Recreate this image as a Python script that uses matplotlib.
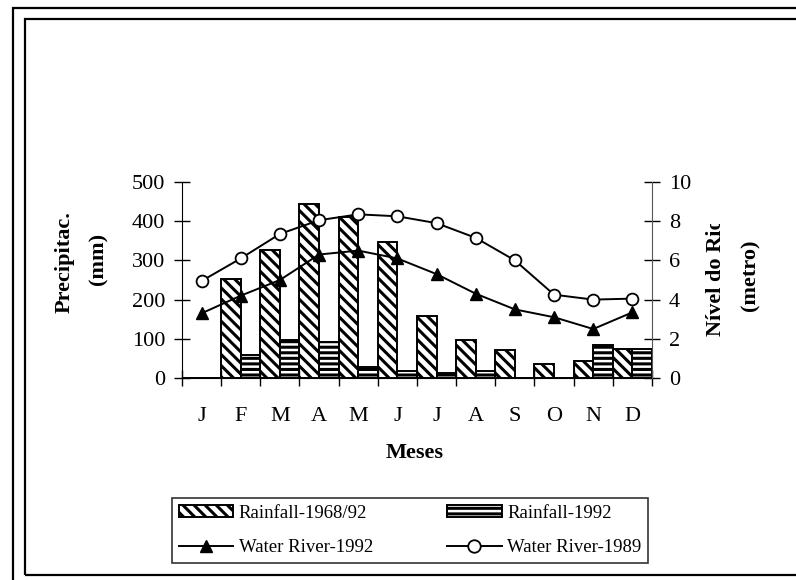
import numpy as np
import matplotlib
matplotlib.use("Agg")
import matplotlib.pyplot as plt
from matplotlib.patches import Rectangle
from matplotlib.transforms import Bbox, TransformedBbox

# Data
months = ["J", "F", "M", "A", "M", "J", "J", "A", "S", "O", "N", "D"]
rain_6892 = [0, 252, 327, 443, 411, 346, 159, 97, 71, 35, 43, 74]
rain_1992 = [0, 59, 97, 93, 27, 17, 12, 17, 0, 0, 85, 74]
river_1992 = [3.3, 4.2, 5.0, 6.3, 6.5, 6.1, 5.3, 4.3, 3.5, 3.1, 2.5, 3.35]
river_1989 = [4.95, 6.1, 7.35, 8.05, 8.35, 8.25, 7.9, 7.15, 6.0, 4.25, 4.0, 4.05]

plt.rcParams['font.family'] = ['Liberation Serif', 'DejaVu Serif']
plt.rcParams['hatch.linewidth'] = 2.2

W, H = 796, 580
fig = plt.figure(figsize=(W / 100, H / 100), dpi=100)

# double frame around the chart
fig.add_artist(Rectangle((13 / W, -0.2), 2, (580 - 8) / H + 0.2, transform=fig.transFigure,
                         fill=False, edgecolor='black', lw=1.6))
fig.add_artist(Rectangle((25 / W, (580 - 575) / H), 2, (575 - 19) / H, transform=fig.transFigure,
                         fill=False, edgecolor='black', lw=1.6))

ax = fig.add_axes([182 / W, (580 - 378) / H, (652 - 182) / W, (378 - 182) / H])
ax2 = ax.twinx()

x = np.arange(len(months))
b1 = ax.bar(x - 0.25, rain_6892, width=0.5, facecolor='white', edgecolor='black',
            lw=1.4, hatch='\\\\\\', label='Rainfall-1968/92')
b2 = ax.bar(x + 0.25, rain_1992, width=0.5, facecolor='white', edgecolor='black',
            lw=1.4, hatch='---', label='Rainfall-1992')

l1, = ax2.plot(x, river_1992, color='black', lw=1.4, marker='^', markersize=9,
               markerfacecolor='black', label='Water River-1992')
l2, = ax2.plot(x, river_1989, color='black', lw=1.4, marker='o', markersize=8.5,
               markerfacecolor='white', markeredgewidth=1.3, label='Water River-1989')

ax.set_xlim(-0.5, 11.5)
ax.set_ylim(0, 500)
ax2.set_ylim(0, 10)
ax.set_yticks([0, 100, 200, 300, 400, 500])
ax2.set_yticks([0, 2, 4, 6, 8, 10])
ax.set_xticks(x)
ax.set_xticklabels(months)
ax.set_xticks(np.arange(-0.5, 12, 1), minor=True)

for a in (ax, ax2):
    a.spines['top'].set_visible(False)
ax.spines['right'].set_visible(False)
ax2.spines['left'].set_visible(False)
ax2.spines['bottom'].set_visible(False)
ax2.spines['right'].set_color('#555555')

fs = 16
ax.tick_params(axis='y', direction='inout', length=12, width=1, pad=6, labelsize=fs)
ax2.tick_params(axis='y', direction='inout', length=12, width=1, pad=6, labelsize=fs)
ax.tick_params(axis='x', which='major', length=0, pad=21, labelsize=fs)
ax.tick_params(axis='x', which='minor', direction='inout', length=12, width=1)

fig.text(415 / W, (580 - 453) / H, "Meses", ha='center', va='center',
         fontsize=fs, fontweight='bold')
fig.text(65 / W, (580 - 262) / H, "Precipitac.", rotation=90, ha='center', va='center',
         fontsize=fs, fontweight='bold')
fig.text(98 / W, (580 - 259) / H, "(mm)", rotation=90, ha='center', va='center',
         fontsize=fs, fontweight='bold')
# right label is cut off at its top in the original
t = fig.text(716 / W, (580 - 277) / H, "Nível do Rio", rotation=90, ha='center', va='center',
             fontsize=fs, fontweight='bold')
t.set_clip_box(TransformedBbox(Bbox([[0, 0], [1, (580 - 224) / H]]), fig.transFigure))
t.set_clip_on(True)
fig.text(750 / W, (580 - 275) / H, "(metro)", rotation=90, ha='center', va='center',
         fontsize=fs, fontweight='bold')

leg = fig.legend([b1, l1, b2, l2],
                 ['Rainfall-1968/92', 'Water River-1992', 'Rainfall-1992', 'Water River-1989'],
                 ncol=2, loc='center', mode='expand',
                 bbox_to_anchor=(172 / W, (580 - 568) / H, (648 - 172) / W, (568 - 493) / H),
                 fontsize=13.5, frameon=True, fancybox=False, edgecolor='black',
                 handlelength=2.9, handleheight=0.6, columnspacing=1.2, handletextpad=0.3,
                 labelspacing=0.95, borderpad=0.35, borderaxespad=0)
leg.get_frame().set_linewidth(1.2)
for h in leg.legend_handles:
    try:
        h.set_markersize(9)
    except AttributeError:
        pass

fig.savefig("out.png", dpi=100)
